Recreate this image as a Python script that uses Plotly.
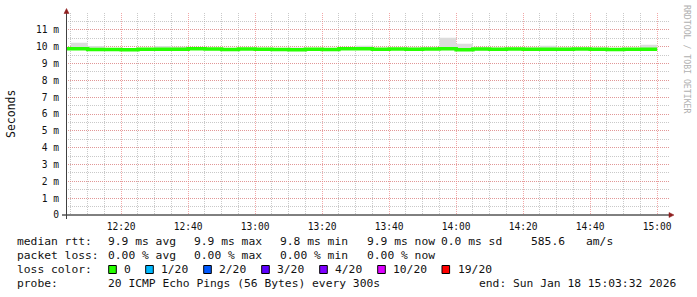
import plotly.graph_objects as go
import pandas as pd

# ---- data (5-minute steps, values in milliseconds) ----
step_start = pd.date_range("2026-01-18 12:00", periods=36, freq="5min")
median_ms = [9.88, 9.87, 9.83, 9.83, 9.82, 9.84, 9.85, 9.85, 9.87, 9.86, 9.83, 9.86,
             9.84, 9.83, 9.82, 9.84, 9.83, 9.88, 9.88, 9.84, 9.86, 9.85, 9.86, 9.87,
             9.82, 9.86, 9.85, 9.86, 9.85, 9.84, 9.85, 9.86, 9.85, 9.83, 9.84, 9.85]
smoke_min_ms = [9.80, 9.80, 9.76, 9.75, 9.76, 9.78, 9.78, 9.79, 9.80, 9.79, 9.76, 9.80,
                9.78, 9.77, 9.75, 9.78, 9.76, 9.80, 9.80, 9.77, 9.80, 9.79, 9.80, 9.78,
                9.75, 9.79, 9.76, 9.80, 9.79, 9.78, 9.79, 9.80, 9.79, 9.76, 9.78, 9.78]
smoke_max_ms = [9.95, 10.24, 10.04, 9.90, 9.88, 9.90, 10.04, 10.00, 9.95, 9.92, 9.90, 9.92,
                9.90, 9.90, 9.95, 9.92, 9.90, 9.95, 10.06, 9.92, 9.92, 9.95, 9.93, 10.53,
                10.18, 9.95, 9.93, 9.92, 9.95, 10.06, 9.95, 9.92, 9.93, 9.88, 9.92, 10.12]
data_end = "2026-01-18 15:00"
range_start = "2026-01-18 12:03:32"
range_end = "2026-01-18 15:03:32"

y_tick_vals = list(range(12))
y_tick_text = ["0"] + [f"{v} m" for v in range(1, 12)]

loss_labels = ["0", "1/20", "2/20", "3/20", "4/20", "10/20", "19/20"]
loss_colors = ["#26ff00", "#00b8ff", "#0059ff", "#5e00ff", "#7e00ff", "#dd00ff", "#ff0000"]

row1 = ["median rtt:", "9.9 ms avg", "9.9 ms max", "9.8 ms min", "9.9 ms now", "0.0 ms sd", "585.6", "am/s"]
row2 = ["packet loss:", "0.00 % avg", "0.00 % max", "0.00 % min", "0.00 % now"]
row4 = ["probe:", "20 ICMP Echo Pings (56 Bytes) every 300s", "end: Sun Jan 18 15:03:32 2026"]

# ---- layout geometry (pixels) ----
W, H = 697, 297
L, R, T, B = 66, 669, 13, 215
PW, PH = R - L, B - T


def px(x):
    return (x - L) / PW


def py(y):
    return (B - y) / PH


MONO = "DejaVu Sans Mono"

xs = list(step_start) + [pd.Timestamp(data_end)]
ymin = smoke_min_ms + [smoke_min_ms[-1]]
ymax = smoke_max_ms + [smoke_max_ms[-1]]
ymed = median_ms + [median_ms[-1]]

fig = go.Figure()
fig.add_trace(go.Scatter(x=xs, y=ymin, mode="lines", line=dict(shape="hv", width=0, color="rgba(0,0,0,0)"),
                         hoverinfo="skip", showlegend=False))
fig.add_trace(go.Scatter(x=xs, y=ymax, mode="lines", line=dict(shape="hv", width=0, color="rgba(0,0,0,0)"),
                         fill="tonexty", fillcolor="#dcdcdc", hoverinfo="skip", showlegend=False))
fig.add_trace(go.Scatter(x=xs, y=ymed, mode="lines", line=dict(shape="hv", width=3.5, color="#26ff00"),
                         showlegend=False))

shapes = []
# axes lines
shapes.append(dict(type="line", xref="paper", yref="paper", x0=px(62), x1=px(670), y0=py(215), y1=py(215),
                   line=dict(color="#000000", width=1)))
shapes.append(dict(type="line", xref="paper", yref="paper", x0=px(66.5), x1=px(66.5), y0=py(219), y1=py(12),
                   line=dict(color="#404040", width=1)))
# arrows
shapes.append(dict(type="path", xref="paper", yref="paper",
                   path=f"M {px(64)},{py(13.5)} L {px(69)},{py(13.5)} L {px(66.5)},{py(8.5)} Z",
                   fillcolor="#8f1f1f", line=dict(color="#8f1f1f", width=0.5)))
shapes.append(dict(type="path", xref="paper", yref="paper",
                   path=f"M {px(669)},{py(212.5)} L {px(669)},{py(217.5)} L {px(674)},{py(215)} Z",
                   fillcolor="#8f1f1f", line=dict(color="#8f1f1f", width=0.5)))

annotations = []
# y title
annotations.append(dict(text="Seconds", x=px(11), y=py(114), xref="paper", yref="paper", textangle=-90,
                        showarrow=False, font=dict(family=MONO, size=11.5, color="#111"),
                        xanchor="center", yanchor="middle"))
# watermark
annotations.append(dict(text="RRDTOOL / TOBI OETIKER", x=px(687), y=py(59), xref="paper", yref="paper",
                        textangle=90, showarrow=False, font=dict(family=MONO, size=8.2, color="#b0b0b0"),
                        xanchor="center", yanchor="middle"))


def txt(s, x, y):
    annotations.append(dict(text=s.replace(" ", "&nbsp;"), x=px(x), y=py(y), xref="paper", yref="paper",
                            showarrow=False, xanchor="left", yanchor="middle", borderpad=0,
                            font=dict(family=MONO, size=11.3, color="#111")))


row1_x = [16, 107.3, 193.3, 279.3, 365.7, 440, 530, 585]
for s, x in zip(row1, row1_x):
    txt(s, x, 241.5)
row2_x = [16, 107.3, 193.3, 279.3, 365.7]
for s, x in zip(row2, row2_x):
    txt(s, x, 255.5)
txt("loss color:", 16, 269.5)
sq_x = [108.7, 145.7, 203.7, 261.7, 319.7, 377.7, 442]
for s, c, x in zip(loss_labels, loss_colors, sq_x):
    shapes.append(dict(type="rect", xref="paper", yref="paper", x0=px(x), x1=px(x + 7.6),
                       y0=py(273.5), y1=py(265.5), fillcolor=c, line=dict(color="#000", width=1)))
    txt(s, x + 14.6, 269.5)
row4_x = [16, 107.3, 478.3]
for s, x in zip(row4, row4_x):
    txt(s, x, 283.2)

grid_major = "rgba(235,130,130,0.7)"
grid_minor = "rgba(165,165,165,0.6)"
dash = "1px,1px"

fig.update_layout(
    width=W, height=H,
    margin=dict(l=L, r=W - R, t=T, b=H - B, pad=0),
    paper_bgcolor="white", plot_bgcolor="white",
    showlegend=False,
    shapes=shapes, annotations=annotations,
    xaxis=dict(type="date", range=[range_start, range_end], tick0="2026-01-18 12:00",
               dtick=20 * 60 * 1000, tickformat="%H:%M", showgrid=True, gridcolor=grid_major,
               griddash=dash, gridwidth=1, zeroline=False, showline=False, ticks="",
               ticklabelstandoff=4,
               tickfont=dict(family=MONO, size=9.6, color="#111"),
               minor=dict(tick0="2026-01-18 12:00", dtick=5 * 60 * 1000, showgrid=True,
                          gridcolor=grid_minor, griddash=dash, gridwidth=1)),
    yaxis=dict(range=[0, 12], tickvals=y_tick_vals, ticktext=y_tick_text, showgrid=True,
               gridcolor=grid_major, griddash=dash, gridwidth=1, zeroline=False, showline=False,
               ticks="", ticklabelstandoff=6,
               tickfont=dict(family=MONO, size=9.6, color="#111"),
               minor=dict(dtick=0.5, tick0=0, showgrid=True, gridcolor=grid_minor, griddash=dash,
                          gridwidth=1)),
)

fig.write_html("out.html")
